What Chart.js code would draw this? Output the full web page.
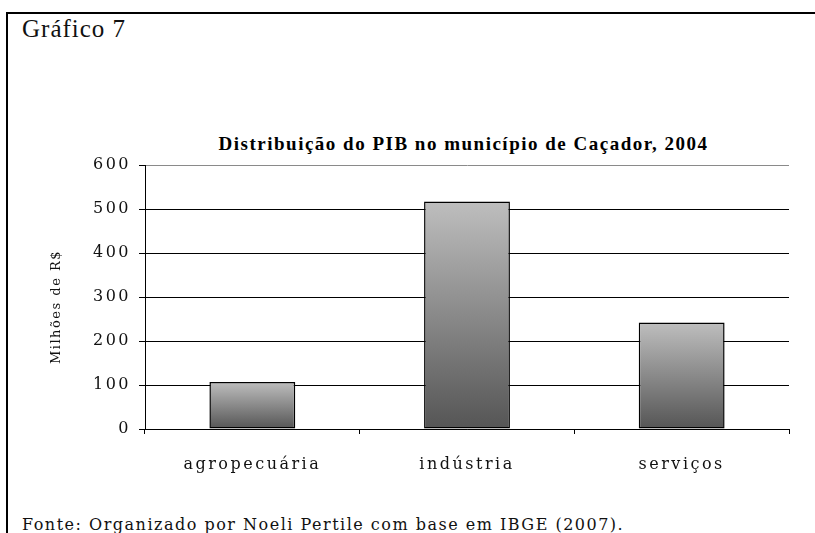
<!DOCTYPE html>
<html>
<head>
<meta charset="utf-8">
<script src="https://cdn.jsdelivr.net/npm/chart.js@4.4.1/dist/chart.umd.min.js"></script>
<style>
  html, body { margin: 0; padding: 0; background: #fff; }
  body { width: 815px; height: 533px; position: relative; overflow: hidden; }
  #frame { position: absolute; left: 6px; top: 12px; width: 900px; height: 600px;
           border-left: 2px solid #000; border-top: 2px solid #000; box-sizing: border-box; }
  #label { position: absolute; left: 22px; top: 16px; font-family: "Liberation Serif", serif;
           font-size: 25px; line-height: 1; letter-spacing: 1px; color: #111; }
  #title { position: absolute; left: 0; width: 927px; top: 134px; text-align: center;
           font-family: "Liberation Serif", serif; font-weight: bold;
           font-size: 19px; line-height: 1; letter-spacing: 1.5px; color: #000; white-space: nowrap; }
  #source { position: absolute; left: 22px; top: 517px; font-family: "DejaVu Serif", serif;
            font-size: 16px; line-height: 1; letter-spacing: 1.5px; color: #111; white-space: nowrap; }
  #wrap { position: absolute; left: 0; top: 0; width: 815px; height: 533px; }
</style>
</head>
<body>
<div id="frame"></div>
<div id="label">Gráfico 7</div>
<div id="title">Distribuição do PIB no município de Caçador, 2004</div>
<div id="source">Fonte: Organizado por Noeli Pertile com base em IBGE (2007).</div>
<div id="wrap"><canvas id="c"></canvas></div>
<script>
const categories = ["agropecuária", "indústria", "serviços"];
const values = [107, 517, 242];
const yTicks = [0, 100, 200, 300, 400, 500, 600];
const yTitle = "Milhões de R$";

const hasLS = ('letterSpacing' in CanvasRenderingContext2D.prototype);
const catSize = hasLS ? 16 : 18;
const ySize = hasLS ? 16 : 17;
const titleSize = hasLS ? 13 : 15;

function barGradient(ctx) {
  const chart = ctx.chart;
  if (!chart.chartArea || ctx.type !== 'data') return '#888';
  const y = chart.scales.y;
  const top = y.getPixelForValue(ctx.raw);
  const bottom = y.getPixelForValue(0);
  if (!isFinite(top) || !isFinite(bottom) || top === bottom) return '#888';
  const g = chart.ctx.createLinearGradient(0, top, 0, bottom);
  g.addColorStop(0, '#bebebe');
  g.addColorStop(1, '#555555');
  return g;
}

const spacing = {
  id: 'spacing',
  beforeDraw(chart) { if (hasLS) chart.ctx.letterSpacing = '2.5px'; },
  afterDraw(chart) {
    const ctx = chart.ctx;
    ctx.save();
    if (hasLS) ctx.letterSpacing = '1.5px';
    ctx.translate(57, 307);
    ctx.rotate(-Math.PI / 2);
    ctx.font = titleSize + 'px "DejaVu Serif"';
    ctx.fillStyle = '#111';
    ctx.textAlign = 'center';
    ctx.textBaseline = 'middle';
    ctx.fillText(yTitle, 0, 0);
    ctx.restore();
  }
};

new Chart(document.getElementById('c'), {
  type: 'bar',
  plugins: [spacing],
  data: {
    labels: categories,
    datasets: [{
      data: values,
      backgroundColor: barGradient,
      borderColor: '#000',
      borderWidth: 1.5,
      borderSkipped: false,
      barPercentage: 0.4,
      categoryPercentage: 1.0
    }]
  },
  options: {
    responsive: true,
    maintainAspectRatio: false,
    animation: false,
    events: [],
    layout: { padding: { top: 165, right: 26, bottom: 0, left: 0 } },
    plugins: { legend: { display: false }, title: { display: false }, tooltip: { enabled: false } },
    scales: {
      x: {
        offset: true,
        afterFit(s) { s.height = 104; },
        grid: {
          offset: true,
          drawOnChartArea: true,
          color: c => c.index === categories.length ? '#8a8a8a' : 'rgba(0,0,0,0)',
          tickColor: c => c.index === categories.length ? '#8a8a8a' : '#000',
          tickLength: 5,
          lineWidth: 1
        },
        border: { display: true, color: '#000', width: 1 },
        ticks: { color: '#111', padding: 21, font: { family: "DejaVu Serif", size: catSize } }
      },
      y: {
        min: 0, max: 600,
        afterFit(s) { s.width = 145; },
        afterBuildTicks(s) { s.ticks = yTicks.map(v => ({ value: v })); },
        grid: {
          color: c => (c.tick && c.tick.value === 600) ? '#8a8a8a' : '#000',
          tickColor: '#000',
          tickLength: 6,
          lineWidth: 1
        },
        border: { display: true, color: '#000', width: 1 },
        ticks: { color: '#111', padding: 8, font: { family: "DejaVu Serif", size: ySize } },
        title: { display: false, text: yTitle }
      }
    }
  }
});
</script>
</body>
</html>
